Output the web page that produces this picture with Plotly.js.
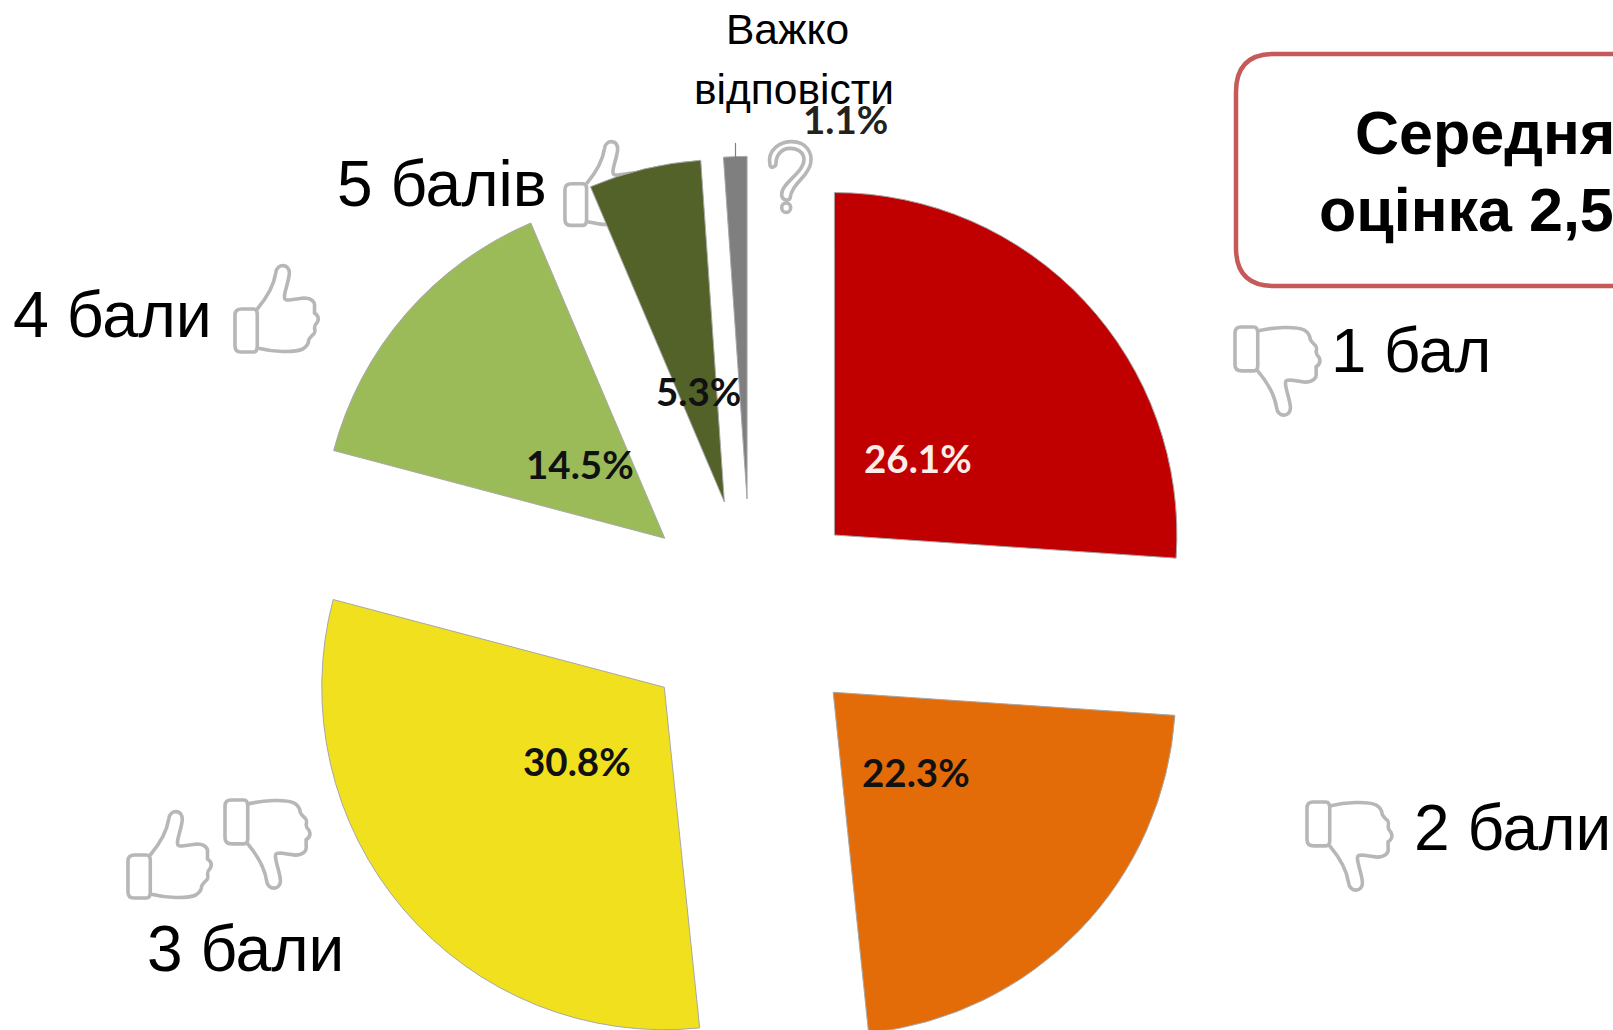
<!DOCTYPE html>
<html><head><meta charset="utf-8">
<script src="https://cdn.plot.ly/plotly-3.0.1.min.js"></script>
<style>html,body{margin:0;padding:0;width:1613px;height:1030px;overflow:hidden;background:#fff}</style>
</head><body><div id="chart"></div>
<script>
const categories = ['1 бал','2 бали','3 бали','4 бали','5 балів','Важко відповісти'];
const values = [26.1,22.3,30.8,14.5,5.3,1.1];
const colors = ['#C00000','#E36C09','#F0E01E','#9BBB59','#526228','#7F7F7F'];
const labelColors = ['#FBEDEA','#111','#111','#111','#111','#222'];
const labelPos = [[918,458],[916,772],[577,761],[580,464],[698,391],[845,119]];

const W=1900, H=1200, cx=751, cy=613, R=342.5, pull=1/3;
const half=R*(1+pull);
const px=x=>x/W, py=y=>1-y/H;

// thumb outline in local units, y measured up from the icon bottom (thumbs-up pose)
const thumbSegs=[
  ['M',8,44],['L',20,44],['C',23,44,24,42,24,39],['L',24,7],['C',24,3,23,1,20,1],['L',7,1],['C',3,1,1,3,1,7],['L',1,38],['C',1,42,3,44,8,44],['Z'],
  ['M',24,44],['C',30,51,41,66,43,80],['C',44,90,58,90,57,79],['C',56,70,52,62,52,56],['C',52,53,54,53,57,53],
  ['L',72,55],['C',80,55,84,51,83,46],['C',83,43,83,42,83,40],['C',86,38,88,35,86,31],['C',84,29,83,27,83,25],
  ['C',84,22,83,19,81,18],['C',79,16,78,15,77,13],['C',77,9,74,6,71,4],['C',62,0,40,1,24,5]
];
function thumbPath(left,top,scale,down){
  const xs=scale*0.97;
  const T=(x,y)=>[px(left+x*xs),py(top+(down?y:87-y)*scale)];
  return thumbSegs.map(s=>{
    if(s[0]==='Z') return 'Z';
    const c=[];
    for(let i=1;i<s.length;i+=2){ const q=T(s[i],s[i+1]); c.push(q[0]+','+q[1]); }
    return s[0]+c.join(' ');
  }).join(' ');
}
const iconLine={color:'#B7B7B7',width:3.6};
const icons=[thumbPath(234,266,1,false),thumbPath(564,142,0.97,false),thumbPath(127,812,1,false),
             thumbPath(224,799,1.02,true),thumbPath(1234,326,1.02,true),thumbPath(1306,801,1.02,true)];
const shapes=icons.map(path=>({type:'path',xref:'paper',yref:'paper',path,line:iconLine,fillcolor:'rgba(0,0,0,0)',layer:'below'}));

// question mark outline
const q=(x,y)=>px(540+x/3)+','+py(y/3);
shapes.push({type:'path',xref:'paper',yref:'paper',layer:'below',line:iconLine,fillcolor:'rgba(0,0,0,0)',
 path:'M'+q(690,497)+' C'+q(680,445)+' '+q(725,425)+' '+q(755,425)+' C'+q(800,425)+' '+q(818,460)+' '+q(812,490)+' C'+q(806,530)+' '+q(755,550)+' '+q(750,595)+' C'+q(745,605)+' '+q(725,600)+' '+q(725,585)+' C'+q(722,550)+' '+q(790,520)+' '+q(792,480)+' C'+q(792,455)+' '+q(770,445)+' '+q(750,445)+' C'+q(725,445)+' '+q(708,465)+' '+q(708,490)+' C'+q(708,502)+' '+q(692,505)+' '+q(690,497)+' Z'});
shapes.push({type:'circle',xref:'paper',yref:'paper',layer:'below',line:iconLine,fillcolor:'rgba(0,0,0,0)',
 x0:px(540+725/3),x1:px(540+752/3),y0:py(609/3),y1:py(637/3)});
// leader line of the smallest slice
shapes.push({type:'line',xref:'paper',yref:'paper',x0:px(735.5),x1:px(735.5),y0:py(143),y1:py(158),line:{color:'#808080',width:1.2}});
// rounded box, running past the right edge of the picture
const bx=1236,bt=54,bb=286,br=38,bR=1890;
shapes.push({type:'path',xref:'paper',yref:'paper',line:{color:'#C55A58',width:4.5},fillcolor:'rgba(0,0,0,0)',layer:'below',
 path:`M${px(bx+br)},${py(bt)} L${px(bR)},${py(bt)} L${px(bR)},${py(bb)} L${px(bx+br)},${py(bb)} Q${px(bx)},${py(bb)} ${px(bx)},${py(bb-br)} L${px(bx)},${py(bt+br)} Q${px(bx)},${py(bt)} ${px(bx+br)},${py(bt)} Z`});

const sans='"Liberation Sans", Arial, sans-serif';
function note(text,x,y,size,opts){
  return Object.assign({text,xref:'paper',yref:'paper',x:px(x),y:py(y),xanchor:'left',yanchor:'middle',showarrow:false,
    font:{family:sans,size,color:'#000'}},opts||{});
}
const annotations=[
  note('4 бали',11,315,64.5),
  note('5 балів',335,184,64),
  note('1 бал',1329,350,63.5),
  note('2 бали',1412,828,64),
  note('3 бали',145,949,64),
  note('Важко',787,29,42.5,{xanchor:'center'}),
  note('відповісти',794,90,42.5,{xanchor:'center'}),
  note('<b>Середня</b>',1353,133,61),
  note('<b>оцінка 2,5</b>',1317,210,61),
];
values.forEach((v,i)=>annotations.push({
  text:'<b>'+v.toFixed(1)+'%</b>',xref:'paper',yref:'paper',x:px(labelPos[i][0]),y:py(labelPos[i][1]),
  xanchor:'center',yanchor:'middle',showarrow:false,
  font:{family:'Lato, "Open Sans", sans-serif',size:38.5,color:labelColors[i]}
}));

Plotly.newPlot('chart',[{
  type:'pie',labels:categories,values,sort:false,direction:'clockwise',rotation:0,
  pull:pull,textinfo:'none',hoverinfo:'label+percent',showlegend:false,
  marker:{colors,line:{color:'#A8A8A8',width:1}},
  domain:{x:[px(cx-half),px(cx+half)],y:[py(cy+half),py(cy-half)]}
}],{
  width:W,height:H,margin:{l:0,r:0,t:0,b:0},paper_bgcolor:'#fff',showlegend:false,
  shapes,annotations
},{displayModeBar:false,staticPlot:true});
</script></body></html>
